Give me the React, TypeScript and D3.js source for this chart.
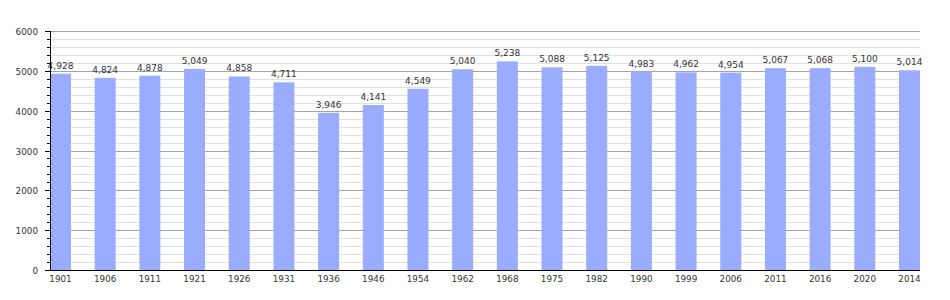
import React from "react";
import * as d3 from "d3";

const years = ["1901","1906","1911","1921","1926","1931","1936","1946","1954","1962","1968","1975","1982","1990","1999","2006","2011","2016","2020","2014"];
const population = [4928,4824,4878,5049,4858,4711,3946,4141,4549,5040,5238,5088,5125,4983,4962,4954,5067,5068,5100,5014];
const majorTicks = [0,1000,2000,3000,4000,5000,6000];

const W = 950, H = 300;
const left = 50, right = 920, top = 31, bottom = 270;
const barW = 21;

export default function App() {
  const y = d3.scaleLinear().domain([0, 6000]).range([bottom, top]);
  const step = (right - left - barW) / (years.length - 1);
  const x = d3.scalePoint<string>().domain(years).range([left, left + step * (years.length - 1)]);
  const minor = d3.range(0, 6001, 200).filter(v => v % 1000 !== 0);
  const fmt = d3.format(",");
  const font = "DejaVu Sans, Verdana, sans-serif";
  return (
    <svg width={W} height={H} style={{ position: "absolute", left: 0, top: 0, background: "#fff" }}>
      {minor.map(v => (
        <g key={"m" + v}>
          <line x1={left} x2={right} y1={Math.round(y(v)) + 0.5} y2={Math.round(y(v)) + 0.5} stroke="#e0e0e0" />
          <line x1={left - 3} x2={left} y1={Math.round(y(v)) + 0.5} y2={Math.round(y(v)) + 0.5} stroke="#000" />
        </g>
      ))}
      {majorTicks.map(v => (
        <g key={"M" + v}>
          {v > 0 && <line x1={left} x2={right} y1={Math.round(y(v)) + 0.5} y2={Math.round(y(v)) + 0.5} stroke="#a4a4a4" />}
          <line x1={left - 5} x2={left} y1={Math.round(y(v)) + 0.5} y2={Math.round(y(v)) + 0.5} stroke="#000" />
          <text x={38} y={y(v) + 4} textAnchor="end" fontFamily={font} fontSize={8.8} fill="#333">{v}</text>
        </g>
      ))}
      {years.map((yr, i) => (
        <g key={yr + i}>
          <rect x={x(yr)!} y={y(population[i])} width={barW} height={bottom - y(population[i])} fill="#9aacfd" />
          <text x={x(yr)! + barW / 2} y={y(population[i]) - 5} textAnchor="middle" fontFamily={font} fontSize={9} fill="#333">{fmt(population[i])}</text>
          <text x={x(yr)! + barW / 2} y={282} textAnchor="middle" fontFamily={font} fontSize={8.8} fill="#333">{yr}</text>
        </g>
      ))}
      <line x1={left + 0.5} x2={left + 0.5} y1={top} y2={bottom} stroke="#000" />
      <line x1={left - 5} x2={right} y1={bottom + 0.5} y2={bottom + 0.5} stroke="#000" />
    </svg>
  );
}
